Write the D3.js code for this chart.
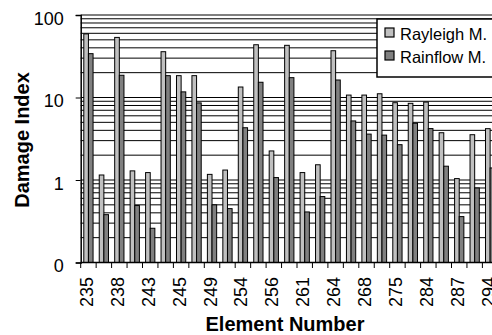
<!DOCTYPE html>
<html>
<head>
<meta charset="utf-8">
<script src="https://cdn.jsdelivr.net/npm/d3@7"></script>
<style>
  html, body { margin: 0; padding: 0; background: #fff; }
  svg { display: block; font-family: Arial, "Liberation Sans", sans-serif; }
</style>
</head>
<body>
<svg id="chart" width="492" height="335"></svg>
<script>
// Element numbers (only every other one gets an axis label)
const elements = [235, 236, 238, 240, 243, 244, 245, 247, 249, 251, 254, 255, 256,
                  258, 261, 262, 264, 266, 268, 271, 275, 280, 284, 286, 287, 290, 294];

// Damage index per element, two estimation methods
const rayleigh = [59, 1.15, 53.5, 1.29, 1.23, 35.9, 18.4, 18.4, 1.17, 1.32, 13.4, 43.6, 2.25,
                  42.9, 1.23, 1.53, 36.9, 10.7, 10.7, 11.1, 8.65, 8.5, 8.8, 3.74, 1.04, 3.54, 4.19];
const rainflow = [34, 0.38, 18.6, 0.49, 0.26, 18.4, 11.7, 8.6, 0.50, 0.45, 4.3, 15.3, 1.07,
                  17.4, 0.41, 0.63, 16.3, 5.2, 3.6, 3.5, 2.68, 4.87, 4.2, 1.47, 0.36, 0.80, 1.4];

const seriesNames = ["Rayleigh M.", "Rainflow M."];
const seriesColors = ["#c0c0c0", "#808080"];

// Log axis: the bottom (0.1) is labelled "0" on this chart
const yTickValues = [0.1, 1, 10, 100];
const yTickLabels = ["0", "1", "10", "100"];

const svg = d3.select("#chart");
const plotLeft = 80.7, slot = 15.45;
const plotTop = 15, plotBottom = 262.5;

const x = d3.scaleBand()
  .domain(elements)
  .range([plotLeft, plotLeft + slot * elements.length])
  .paddingInner(0).paddingOuter(0);

const xInner = d3.scaleBand()
  .domain([0, 1])
  .range([x.bandwidth() * 0.2, x.bandwidth() * 0.8]);

const y = d3.scaleLog().domain([0.1, 100]).range([plotBottom, plotTop]);

// Gridlines at every minor step of each decade
const gridVals = [];
for (let d = 0.1; d < 100; d *= 10) {
  for (let k = 2; k <= 10; k++) gridVals.push(+(d * k).toPrecision(3));
}
const plotRight = x.range()[1];
svg.append("g").selectAll("line").data(gridVals).join("line")
  .attr("x1", plotLeft).attr("x2", plotRight)
  .attr("y1", d => y(d)).attr("y2", d => y(d))
  .attr("stroke", "#000").attr("stroke-width", 1);

// Bars
const series = [rayleigh, rainflow];
const barG = svg.append("g");
series.forEach((vals, s) => {
  barG.append("g").selectAll("rect").data(vals).join("rect")
    .attr("x", (v, i) => x(elements[i]) + xInner(s))
    .attr("width", xInner.bandwidth())
    .attr("y", v => y(v))
    .attr("height", v => y(0.1) - y(v))
    .attr("fill", seriesColors[s])
    .attr("stroke", "#000")
    .attr("stroke-width", 1);
});

// Y axis
const yAxis = d3.axisLeft(y)
  .tickValues(yTickValues)
  .tickFormat((d, i) => yTickLabels[i])
  .tickSizeOuter(0)
  .tickSize(5)
  .tickPadding(12);
const yg = svg.append("g").attr("transform", `translate(${plotLeft},0)`).call(yAxis);
yg.select(".domain").attr("stroke", "#000").attr("stroke-width", 1.5);
yg.selectAll(".tick line").attr("stroke", "#000");
yg.selectAll(".tick text")
  .attr("font-size", 18).attr("fill", "#000")
  .attr("font-family", "Arial, 'Liberation Sans', sans-serif")
  .attr("dy", "0.5em");

// X axis: ticks on slot boundaries, labels every other element
const xg = svg.append("g");
xg.append("line")
  .attr("x1", plotLeft).attr("x2", plotRight)
  .attr("y1", plotBottom).attr("y2", plotBottom)
  .attr("stroke", "#000").attr("stroke-width", 1.5);
const bounds = d3.range(elements.length + 1).map(i => plotLeft + i * x.step());
xg.selectAll("line.tk").data(bounds).join("line")
  .attr("class", "tk")
  .attr("x1", d => d).attr("x2", d => d)
  .attr("y1", plotBottom).attr("y2", plotBottom + 5.5)
  .attr("stroke", "#000");
xg.selectAll("text").data(elements.filter((e, i) => i % 2 === 0)).join("text")
  .attr("transform", d => `translate(${x(d) + x.bandwidth() / 2 + 4.5},${277}) rotate(-90)`)
  .attr("text-anchor", "end")
  .attr("font-size", 18)
  .attr("fill", "#000")
  .text(d => d);

// Axis titles
svg.append("text")
  .attr("transform", `translate(29,140) rotate(-90)`)
  .attr("text-anchor", "middle")
  .attr("font-size", 20).attr("font-weight", "bold")
  .text("Damage Index");
svg.append("text")
  .attr("x", 285).attr("y", 331)
  .attr("text-anchor", "middle")
  .attr("font-size", 20).attr("font-weight", "bold")
  .text("Element Number");

// Legend
const lg = svg.append("g").attr("transform", "translate(377,19)");
lg.append("rect")
  .attr("width", 125).attr("height", 58)
  .attr("fill", "#fff").attr("stroke", "#000").attr("stroke-width", 1.5);
seriesNames.forEach((name, i) => {
  const row = lg.append("g").attr("transform", `translate(8,${9 + i * 23})`);
  row.append("rect")
    .attr("width", 9).attr("height", 9)
    .attr("fill", seriesColors[i]).attr("stroke", "#000").attr("stroke-width", 1.2);
  row.append("text")
    .attr("x", 15).attr("y", 12)
    .attr("font-size", 16.5).attr("fill", "#000")
    .text(name);
});
</script>
</body>
</html>
